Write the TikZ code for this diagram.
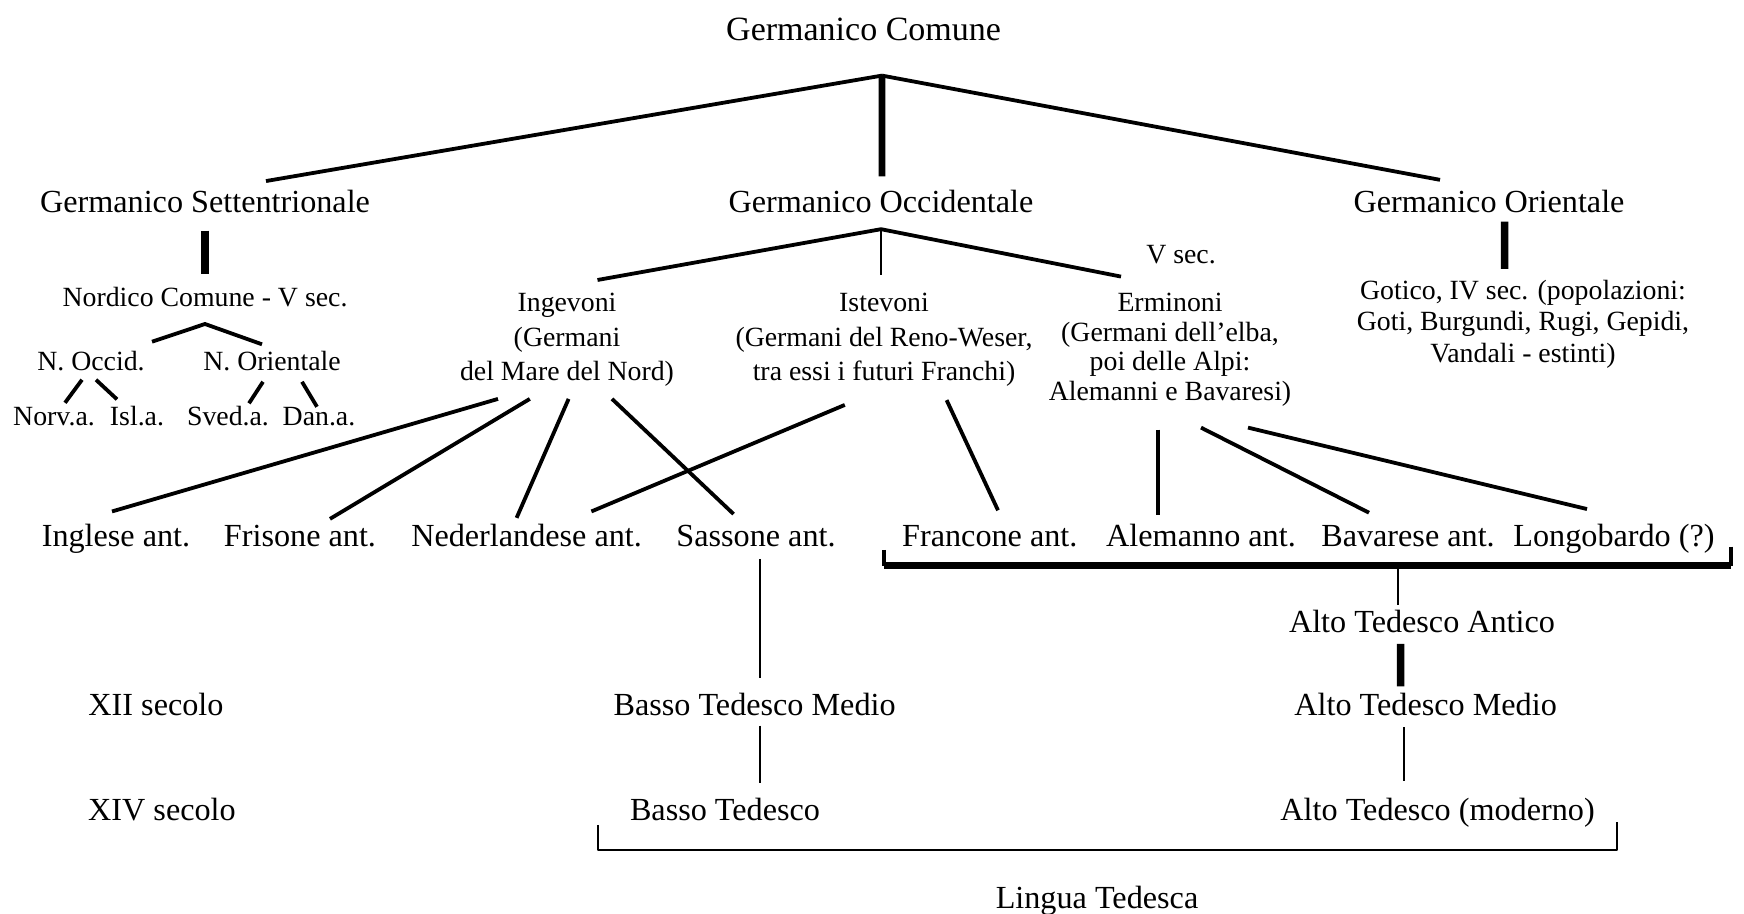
\documentclass[tikz,border=0pt]{standalone}
\usepackage{fontspec}
\setmainfont{Liberation Serif}
\begin{document}
\begin{tikzpicture}[line join=bevel,
  big/.style={font=\fontsize{16.1bp}{19bp}\selectfont,inner sep=1bp,anchor=base},
  small/.style={font=\fontsize{13.9bp}{15.5bp}\selectfont,inner sep=1bp,anchor=base},
  block/.style={font=\fontsize{13.9bp}{15bp}\selectfont,inner sep=1bp,align=center,anchor=north},
  branch/.style={line width=1.9bp},
  trunk/.style={line width=3.3bp},
  bar/.style={line width=3.8bp},
  thinline/.style={line width=0.75bp},
  stem/.style={line width=1.3bp},
  tick/.style={line width=2.2bp},
  brace/.style={line width=3.5bp},
  lbrack/.style={line width=1.2bp},
]
\useasboundingbox (0bp,0bp) rectangle (872bp,457bp);
%%
\node (gc) at (431.8bp,436.7bp) [big,font=\fontsize{17bp}{19bp}\selectfont] {Germanico Comune};
  \node (gs) at (102.5bp,350.5bp) [big] {Germanico Settentrionale};
  \node (go) at (440.5bp,350.5bp) [big] {Germanico Occidentale};
  \node (gor) at (744.5bp,350.5bp) [big] {Germanico Orientale};
  \node (nordico) at (102.5bp,303.6bp) [small] {Nordico Comune - V sec.};
  \node (nocc) at (45.5bp,271.6bp) [small] {N. Occid.};
  \node (nor) at (136bp,271.6bp) [small] {N. Orientale};
  \node (norv) at (27bp,244bp) [small] {Norv.a.};
  \node (isl) at (68.5bp,244bp) [small] {Isl.a.};
  \node (sved) at (114bp,244bp) [small] {Sved.a.};
  \node (dan) at (159.5bp,244bp) [small] {Dan.a.};
  \node (ing) at (283.5bp,311.5bp) [block,font=\fontsize{13.9bp}{17.2bp}\selectfont] {Ingevoni\\(Germani\\del Mare del Nord)};
  \node (ist) at (442bp,311.5bp) [block,font=\fontsize{13.9bp}{17.2bp}\selectfont] {Istevoni\\(Germani del Reno-Weser,\\tra essi i futuri Franchi)};
  \node (vsec) at (590.5bp,325bp) [small] {V sec.};
  \node (erm) at (585bp,311.5bp) [block,font=\fontsize{13.9bp}{14.75bp}\selectfont] {Erminoni\\(Germani dell’elba,\\poi delle Alpi:\\Alemanni e Bavaresi)};
  \node (got) at (761.5bp,318.1bp) [block,font=\fontsize{13.9bp}{15.75bp}\selectfont] {Gotico, IV sec. (popolazioni:\\Goti, Burgundi, Rugi, Gepidi,\\Vandali - estinti)};
  \node (ingl) at (58bp,183.7bp) [big] {Inglese ant.};
  \node (fris) at (150bp,183.7bp) [big] {Frisone ant.};
  \node (ned) at (263.3bp,183.7bp) [big] {Nederlandese ant.};
  \node (sass) at (378bp,183.7bp) [big] {Sassone ant.};
  \node (fran) at (494.9bp,183.7bp) [big] {Francone ant.};
  \node (alem) at (600.5bp,183.7bp) [big] {Alemanno ant.};
  \node (bav) at (704bp,183.7bp) [big] {Bavarese ant.};
  \node (longo) at (807bp,183.7bp) [big] {Longobardo (?)};
  \node (ata) at (711bp,140.7bp) [big] {Alto Tedesco Antico};
  \node (xii) at (78bp,99.3bp) [big] {XII secolo};
  \node (btm) at (377.3bp,99.3bp) [big] {Basso Tedesco Medio};
  \node (atm) at (712.8bp,99.3bp) [big] {Alto Tedesco Medio};
  \node (xiv) at (81bp,46.7bp) [big] {XIV secolo};
  \node (bt) at (362.5bp,46.7bp) [big] {Basso Tedesco};
  \node (atmod) at (718.8bp,46.7bp) [big] {Alto Tedesco (moderno)};
  \node (lingua) at (548.5bp,2.7bp) [big] {Lingua Tedesca};
  \coordinate (top) at (441bp,419.2bp);
  \coordinate (nsplit) at (102.5bp,295bp);
  \coordinate (wsplit) at (440.5bp,342.4bp);
  \coordinate (ohgw) at (441.9bp,174bp);
  \coordinate (ohge) at (865.5bp,174bp);
  \coordinate (ohgm) at (699bp,174bp);
  \coordinate (ltw) at (298.9bp,32bp);
  \coordinate (lte) at (808.5bp,32bp);
%% first split
  \draw [branch] (top) -- ([shift={(30.5bp,3.6bp)}]gs.north);
  \draw [branch] (top) -- ([shift={(-24.5bp,4.2bp)}]gor.north);
  \draw [trunk] (top) -- ([shift={(0.5bp,6bp)}]go.north);
%% north
  \draw [bar,shorten <=7.5bp,shorten >=5.4bp] (gs) -- (nordico);
  \draw [branch] ([shift={(30.5bp,3.7bp)}]nocc.north) -- (nsplit) -- ([shift={(-5bp,2.4bp)}]nor.north);
  \draw [branch] ([shift={(-4.5bp,-3.1bp)}]nocc.south) -- ([shift={(5.5bp,1.3bp)}]norv.north);
  \draw [branch] ([shift={(2.5bp,-3.1bp)}]nocc.south) -- ([shift={(-10bp,2.5bp)}]isl.north);
  \draw [branch] ([shift={(-4.5bp,-4.1bp)}]nor.south) -- ([shift={(10.5bp,0.5bp)}]sved.north);
  \draw [branch] ([shift={(15bp,-4.1bp)}]nor.south) -- ([shift={(-1bp,-0.7bp)}]dan.north);
%% west
  \draw [branch] ([shift={(15.25bp,5.5bp)}]ing.north) -- (wsplit) -- ([shift={(-24.5bp,7.2bp)}]erm.north);
  \draw [thinline] (wsplit) -- ([shift={(-1.5bp,8bp)}]ist.north);
  \draw [branch] ([shift={(-34.5bp,-5bp)}]ing.south) -- ([shift={(-2bp,5.2bp)}]ingl.north);
  \draw [branch] ([shift={(-18.6bp,-5bp)}]ing.south) -- ([shift={(15bp,2bp)}]fris.north);
  \draw [branch] ([shift={(0.8bp,-5bp)}]ing.south) -- ([shift={(-5bp,2bp)}]ned.north);
  \draw [branch] ([shift={(22.5bp,-5bp)}]ing.south) -- ([shift={(-11.2bp,4.4bp)}]sass.north);
  \draw [branch] ([shift={(-19.6bp,-8bp)}]ist.south) -- ([shift={(32.4bp,5.2bp)}]ned.north);
  \draw [branch] ([shift={(31.3bp,-5.6bp)}]ist.south) -- ([shift={(4.1bp,6.4bp)}]fran.north);
  \draw [branch] ([shift={(-6bp,-10.5bp)}]erm.south) -- ([shift={(-21.5bp,3.5bp)}]alem.north);
  \draw [branch] ([shift={(15.5bp,-9.5bp)}]erm.south) -- ([shift={(-19.5bp,5.2bp)}]bav.north);
  \draw [branch] ([shift={(39bp,-9.5bp)}]erm.south) -- ([shift={(-13.5bp,6.4bp)}]longo.north);
%% east
  \draw [bar] ([shift={(7.8bp,-3bp)}]gor.south) -- ([shift={(-9.2bp,4.4bp)}]got.north);
%% high german
  \draw [tick] ([yshift=8bp]ohgw) -- (ohgw);
  \draw [tick] ([yshift=9.7bp]ohge) -- (ohge);
  \draw [brace] (ohgw) -- (ohge);
  \draw [thinline] (ohgm) -- ([shift={(-12bp,1.5bp)}]ata.north);
  \draw [bar] ([shift={(-10.7bp,-4.3bp)}]ata.south) -- ([shift={(-12.5bp,2.1bp)}]atm.north);
  \draw [thinline] ([shift={(-10.9bp,-4.6bp)}]atm.south) -- ([shift={(-16.9bp,7.5bp)}]atmod.north);
%% low german
  \draw [stem] ([shift={(2bp,-4.7bp)}]sass.south) -- ([shift={(2.7bp,6.4bp)}]btm.north);
  \draw [thinline] ([shift={(2.7bp,-3.8bp)}]btm.south) -- ([shift={(17.5bp,6.3bp)}]bt.north);
  \draw [lbrack] ([yshift=12.5bp]ltw) -- (ltw) -- (lte) -- ([yshift=14.2bp]lte);
%
\end{tikzpicture}
\end{document}
